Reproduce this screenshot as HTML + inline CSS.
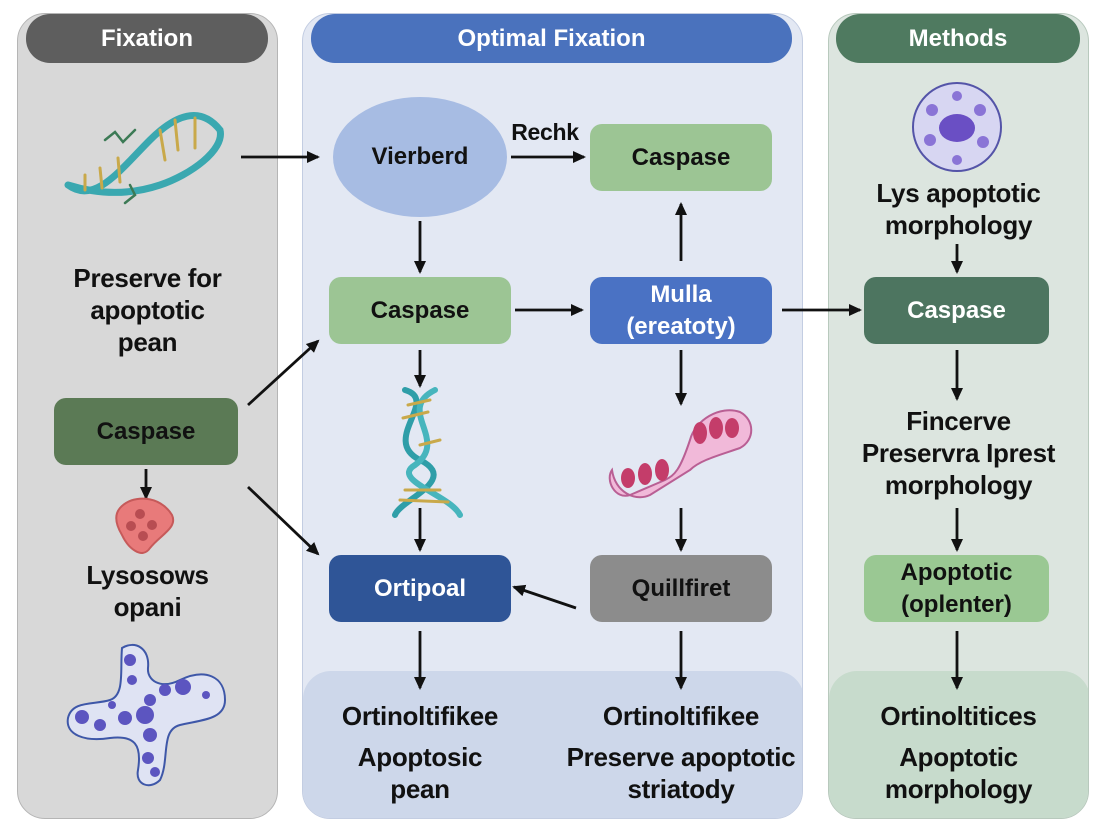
<!DOCTYPE html>
<html><head><meta charset="utf-8"><style>
body{margin:0;width:1104px;height:832px;background:#fff;position:relative;overflow:hidden;font-family:"Liberation Sans",sans-serif;}
div{position:absolute;box-sizing:border-box;}
.t{font-weight:bold;text-align:center;color:#111;font-size:26px;line-height:32px;letter-spacing:-0.3px;}
.n{display:flex;align-items:center;justify-content:center;text-align:center;font-weight:bold;font-size:24px;line-height:32px;border-radius:12px;color:#111;}
</style></head><body>
<div style="left:17px;top:13px;width:261px;height:806px;background:#d8d8d8;border:1.5px solid #b5b5b5;border-radius:28px;"></div>
<div style="left:302px;top:13px;width:501px;height:806px;background:#e3e8f3;border:1.5px solid #c3cde2;border-radius:28px;overflow:hidden;">
 <div style="left:0;top:657px;width:501px;height:150px;background:#cdd7ea;border-radius:28px 28px 0 0;"></div></div>
<div style="left:828px;top:13px;width:261px;height:806px;background:#dce5df;border:1.5px solid #b8c9bd;border-radius:28px;overflow:hidden;">
 <div style="left:0;top:657px;width:261px;height:150px;background:#c7dbcc;border-radius:28px 28px 0 0;"></div></div>

<div class="n" style="left:26px;top:14px;width:242px;height:49px;background:#5e5e5e;color:#fff;border-radius:24px;">Fixation</div>
<div class="n" style="left:311px;top:14px;width:481px;height:49px;background:#4a72bd;color:#fff;border-radius:24px;">Optimal Fixation</div>
<div class="n" style="left:836px;top:14px;width:244px;height:49px;background:#4f7a60;color:#fff;border-radius:24px;">Methods</div>

<div class="n" style="left:333px;top:97px;width:174px;height:120px;background:#a7bce3;border-radius:50%;">Vierberd</div>
<div class="n" style="left:590px;top:124px;width:182px;height:67px;background:#9cc594;">Caspase</div>
<div class="n" style="left:329px;top:277px;width:182px;height:67px;background:#9cc594;">Caspase</div>
<div class="n" style="left:590px;top:277px;width:182px;height:67px;background:#4a72c4;color:#fff;">Mulla<br>(ereatoty)</div>
<div class="n" style="left:329px;top:555px;width:182px;height:67px;background:#2f5597;color:#fff;">Ortipoal</div>
<div class="n" style="left:590px;top:555px;width:182px;height:67px;background:#8c8c8c;">Quillfiret</div>
<div class="n" style="left:54px;top:398px;width:184px;height:67px;background:#5b7a55;">Caspase</div>
<div class="n" style="left:864px;top:277px;width:185px;height:67px;background:#4d7560;color:#fff;">Caspase</div>
<div class="n" style="left:864px;top:555px;width:185px;height:67px;background:#9ac893;">Apoptotic<br>(oplenter)</div>

<div class="t" style="left:17px;top:262px;width:261px;">Preserve for<br>apoptotic<br>pean</div>
<div class="t" style="left:17px;top:559px;width:261px;">Lysosows<br>opani</div>
<div class="t" style="left:500px;top:116px;width:90px;font-size:23px;">Rechk</div>
<div class="t" style="left:828px;top:177px;width:261px;">Lys apoptotic<br>morphology</div>
<div class="t" style="left:828px;top:405px;width:261px;">Fincerve<br>Preservra Iprest<br>morphology</div>
<div class="t" style="left:302px;top:700px;width:236px;">Ortinoltifikee</div>
<div class="t" style="left:302px;top:741px;width:236px;">Apoptosic<br>pean</div>
<div class="t" style="left:550px;top:700px;width:262px;">Ortinoltifikee</div>
<div class="t" style="left:550px;top:741px;width:262px;">Preserve apoptotic<br>striatody</div>
<div class="t" style="left:828px;top:700px;width:261px;">Ortinoltitices</div>
<div class="t" style="left:828px;top:741px;width:261px;">Apoptotic<br>morphology</div>

<svg width="1104" height="832" style="position:absolute;left:0;top:0">
<defs><marker id="a" markerWidth="14" markerHeight="14" refX="11" refY="6" orient="auto" markerUnits="userSpaceOnUse"><path d="M0,0 L13,6 L0,12 z" fill="#111"/></marker></defs>
<g stroke="#111" stroke-width="2.8" fill="none" marker-end="url(#a)">
<line x1="241" y1="157" x2="318" y2="157"/>
<line x1="511" y1="157" x2="584" y2="157"/>
<line x1="420" y1="221" x2="420" y2="272"/>
<line x1="681" y1="261" x2="681" y2="204"/>
<line x1="515" y1="310" x2="582" y2="310"/>
<line x1="782" y1="310" x2="860" y2="310"/>
<line x1="420" y1="350" x2="420" y2="386"/>
<line x1="681" y1="350" x2="681" y2="404"/>
<line x1="248" y1="405" x2="318" y2="341"/>
<line x1="248" y1="487" x2="318" y2="554"/>
<line x1="146" y1="469" x2="146" y2="498"/>
<line x1="420" y1="508" x2="420" y2="550"/>
<line x1="681" y1="508" x2="681" y2="550"/>
<line x1="576" y1="608" x2="514" y2="587"/>
<line x1="420" y1="631" x2="420" y2="688"/>
<line x1="681" y1="631" x2="681" y2="688"/>
<line x1="957" y1="244" x2="957" y2="272"/>
<line x1="957" y1="350" x2="957" y2="399"/>
<line x1="957" y1="508" x2="957" y2="550"/>
<line x1="957" y1="631" x2="957" y2="688"/>
</g>
<g fill="none" stroke-linecap="round">
<path d="M68,185 C95,205 120,170 150,140 C175,115 200,105 220,130 C225,150 190,175 160,185 C130,195 100,195 68,185" stroke="#3aa8b0" stroke-width="7"/>
<g stroke="#c9a94a" stroke-width="3"><line x1="85" y1="175" x2="85" y2="190"/><line x1="100" y1="168" x2="102" y2="188"/><line x1="118" y1="158" x2="120" y2="182"/><line x1="160" y1="130" x2="165" y2="160"/><line x1="175" y1="120" x2="178" y2="150"/><line x1="195" y1="118" x2="195" y2="148"/></g>
<path d="M105,140 l10,-8 l8,10 l12,-12 M130,185 l5,10 l-10,8" stroke="#3c7a55" stroke-width="2.5"/>
</g>
<g fill="none" stroke-linecap="round">
<path d="M405,390 C440,400 380,440 420,460 C460,480 400,500 395,515" stroke="#2f9ea8" stroke-width="6"/>
<path d="M435,390 C395,410 450,440 415,465 C390,480 450,495 460,515" stroke="#47b5bd" stroke-width="6"/>
<g stroke="#c9a94a" stroke-width="3"><line x1="408" y1="405" x2="430" y2="400"/><line x1="403" y1="418" x2="428" y2="412"/><line x1="420" y1="445" x2="440" y2="440"/><line x1="405" y1="490" x2="440" y2="490"/><line x1="400" y1="500" x2="448" y2="502"/></g>
</g>
<path d="M120,508 C132,494 160,495 172,515 C178,528 160,535 150,548 C142,560 128,548 122,535 C116,525 114,515 120,508z" fill="#e87a7a" stroke="#c65a5a" stroke-width="2"/>
<g fill="#b84d52"><circle cx="140" cy="514" r="5"/><circle cx="131" cy="526" r="5"/><circle cx="152" cy="525" r="5"/><circle cx="143" cy="536" r="5"/></g>
<path d="M122,648 C135,640 150,648 148,668 C147,680 160,690 180,680 C205,668 225,676 225,700 C225,720 200,720 180,725 C160,730 170,760 160,780 C150,790 135,785 138,770 C142,745 135,735 110,738 C85,742 65,735 68,718 C72,700 95,705 110,700 C125,695 120,670 122,648z" fill="#dfe3f3" stroke="#3e57a8" stroke-width="2"/>
<g fill="#5c55c0"><circle cx="130" cy="660" r="6"/><circle cx="132" cy="680" r="5"/><circle cx="165" cy="690" r="6"/><circle cx="183" cy="687" r="8"/><circle cx="150" cy="700" r="6"/><circle cx="145" cy="715" r="9"/><circle cx="125" cy="718" r="7"/><circle cx="82" cy="717" r="7"/><circle cx="100" cy="725" r="6"/><circle cx="150" cy="735" r="7"/><circle cx="148" cy="758" r="6"/><circle cx="155" cy="772" r="5"/><circle cx="206" cy="695" r="4"/><circle cx="112" cy="705" r="4"/></g>
<path d="M612,470 C605,480 615,500 630,495 L665,480 C675,475 680,470 690,440 C695,420 720,405 740,412 C755,420 755,440 740,448 C720,455 700,460 690,470 L650,495 C635,502 615,492 612,470z" fill="#f1b9d9" stroke="#b95f94" stroke-width="2"/>
<g fill="#c43d6a"><ellipse cx="628" cy="478" rx="7" ry="10"/><ellipse cx="645" cy="474" rx="7" ry="11"/><ellipse cx="662" cy="470" rx="7" ry="11"/><ellipse cx="700" cy="433" rx="7" ry="11"/><ellipse cx="716" cy="428" rx="7" ry="11"/><ellipse cx="732" cy="428" rx="7" ry="10"/></g>
<circle cx="957" cy="127" r="44" fill="#d7d6f2" stroke="#5454a8" stroke-width="2"/>
<ellipse cx="957" cy="128" rx="18" ry="14" fill="#6a4fc4"/>
<g fill="#8a74d6"><circle cx="932" cy="110" r="6"/><circle cx="980" cy="110" r="6"/><circle cx="930" cy="140" r="6"/><circle cx="983" cy="142" r="6"/><circle cx="957" cy="96" r="5"/><circle cx="957" cy="160" r="5"/></g>
</svg>
</body></html>
